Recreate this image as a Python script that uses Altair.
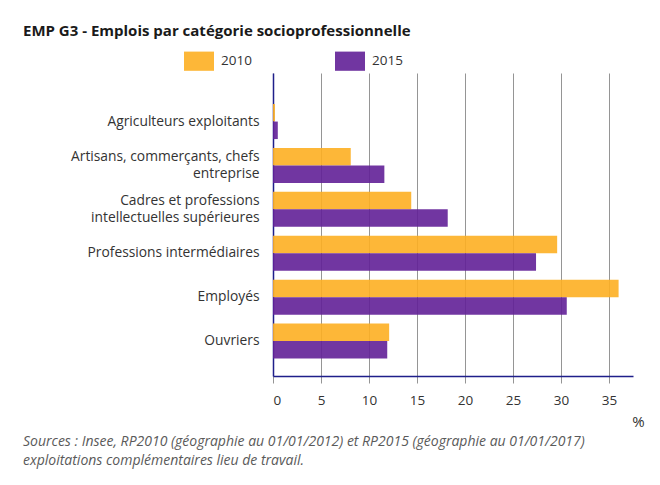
import altair as alt
import pandas as pd

categories = [
    "Agriculteurs exploitants",
    "Artisans, commerçants, chefs\nentreprise",
    "Cadres et professions\nintellectuelles supérieures",
    "Professions intermédiaires",
    "Employés",
    "Ouvriers",
]
years = ["2010", "2015"]
values_2010 = [0.2, 8.1, 14.4, 29.6, 36.0, 12.1]
values_2015 = [0.5, 11.6, 18.2, 27.4, 30.6, 11.9]
x_ticks = [0, 5, 10, 15, 20, 25, 30, 35]
title_text = "EMP G3 - Emplois par catégorie socioprofessionnelle"
source_lines = [
    "Sources : Insee, RP2010 (géographie au 01/01/2012) et RP2015 (géographie au 01/01/2017)",
    "exploitations complémentaires lieu de travail.",
]
colors = ["#FDAF22", "#622097"]

rows = []
for c, v in zip(categories, values_2010):
    rows.append({"cat": c, "year": "2010", "value": v})
for c, v in zip(categories, values_2015):
    rows.append({"cat": c, "year": "2015", "value": v})
df = pd.DataFrame(rows)

W, H = 360, 303
FONT = "Open Sans"
NAVY = "#1f1f8a"

bars = alt.Chart(df).mark_bar(opacity=0.9).encode(
    x=alt.X(
        "value:Q",
        scale=alt.Scale(domain=[0, 37.5], nice=False, zero=True),
        axis=alt.Axis(
            values=x_ticks,
            grid=True,
            gridColor="#959595",
            gridWidth=1,
            tickColor="#959595",
            tickSize=7,
            domainColor=NAVY,
            domainWidth=1.5,
            labelFontSize=13.5,
            labelColor="#333333",
            labelFont=FONT,
            labelPadding=10,
            title="%",
            titleFont=FONT,
            titleFontSize=15,
            titleFontWeight="normal",
            titleColor="#333333",
            titleAnchor="start",
            titleAlign="center",
            titleBaseline="middle",
            titleX=365,
            titleY=45,
        ),
    ),
    y=alt.Y(
        "cat:N",
        sort=categories,
        scale=alt.Scale(paddingInner=0.203, paddingOuter=0.553, align=0.64),
        axis=alt.Axis(
            title=None,
            ticks=False,
            tickSize=0,
            domainColor=NAVY,
            domainWidth=1.5,
            labelFontSize=13.8,
            labelColor="#333333",
            labelFont=FONT,
            labelPadding=14,
            labelLimit=300,
            labelLineHeight=17,
            labelExpr="split(datum.label, '\\n')",
            labelOffset={
                "condition": {"test": "indexof(datum.value, '\\n') >= 0", "value": -8.5},
                "value": 0,
            },
        ),
    ),
    yOffset=alt.YOffset("year:N", sort=years),
    color=alt.Color(
        "year:N",
        sort=years,
        scale=alt.Scale(domain=years, range=colors),
        legend=alt.Legend(
            title=None,
            orient="none",
            direction="horizontal",
            legendX=-89,
            legendY=-27,
            symbolType="M-1,-0.64H1V0.64H-1Z",
            symbolSize=900,
            symbolOpacity=0.9,
            symbolStrokeWidth=0,
            labelFontSize=13.5,
            labelFont=FONT,
            labelColor="#333333",
            labelOffset=7,
            columnPadding=83,
        ),
    ),
)

src = pd.DataFrame({"line": ["\n".join(source_lines)]})
footer = alt.Chart(src).mark_text(
    align="left",
    baseline="alphabetic",
    font=FONT,
    fontSize=14,
    fontStyle="italic",
    color="#5a5a5a",
    lineBreak="\n",
    lineHeight=19,
).encode(
    text="line:N",
    x=alt.value(-250),
    y=alt.value(373),
)

chart = alt.layer(bars, footer).properties(
    width=W,
    height=H,
    padding={"left": 265, "top": 65, "right": 19, "bottom": 101},
    autosize=alt.AutoSizeParams(type="none"),
    title=alt.Title(
        title_text,
        anchor="start",
        frame="group",
        font=FONT,
        fontSize=15,
        fontWeight="bold",
        color="#1a1a1a",
        dx=-250,
        offset=7,
    ),
).configure_view(stroke=None)

chart.save("out.html", embed_options={"renderer": "svg", "actions": False})
